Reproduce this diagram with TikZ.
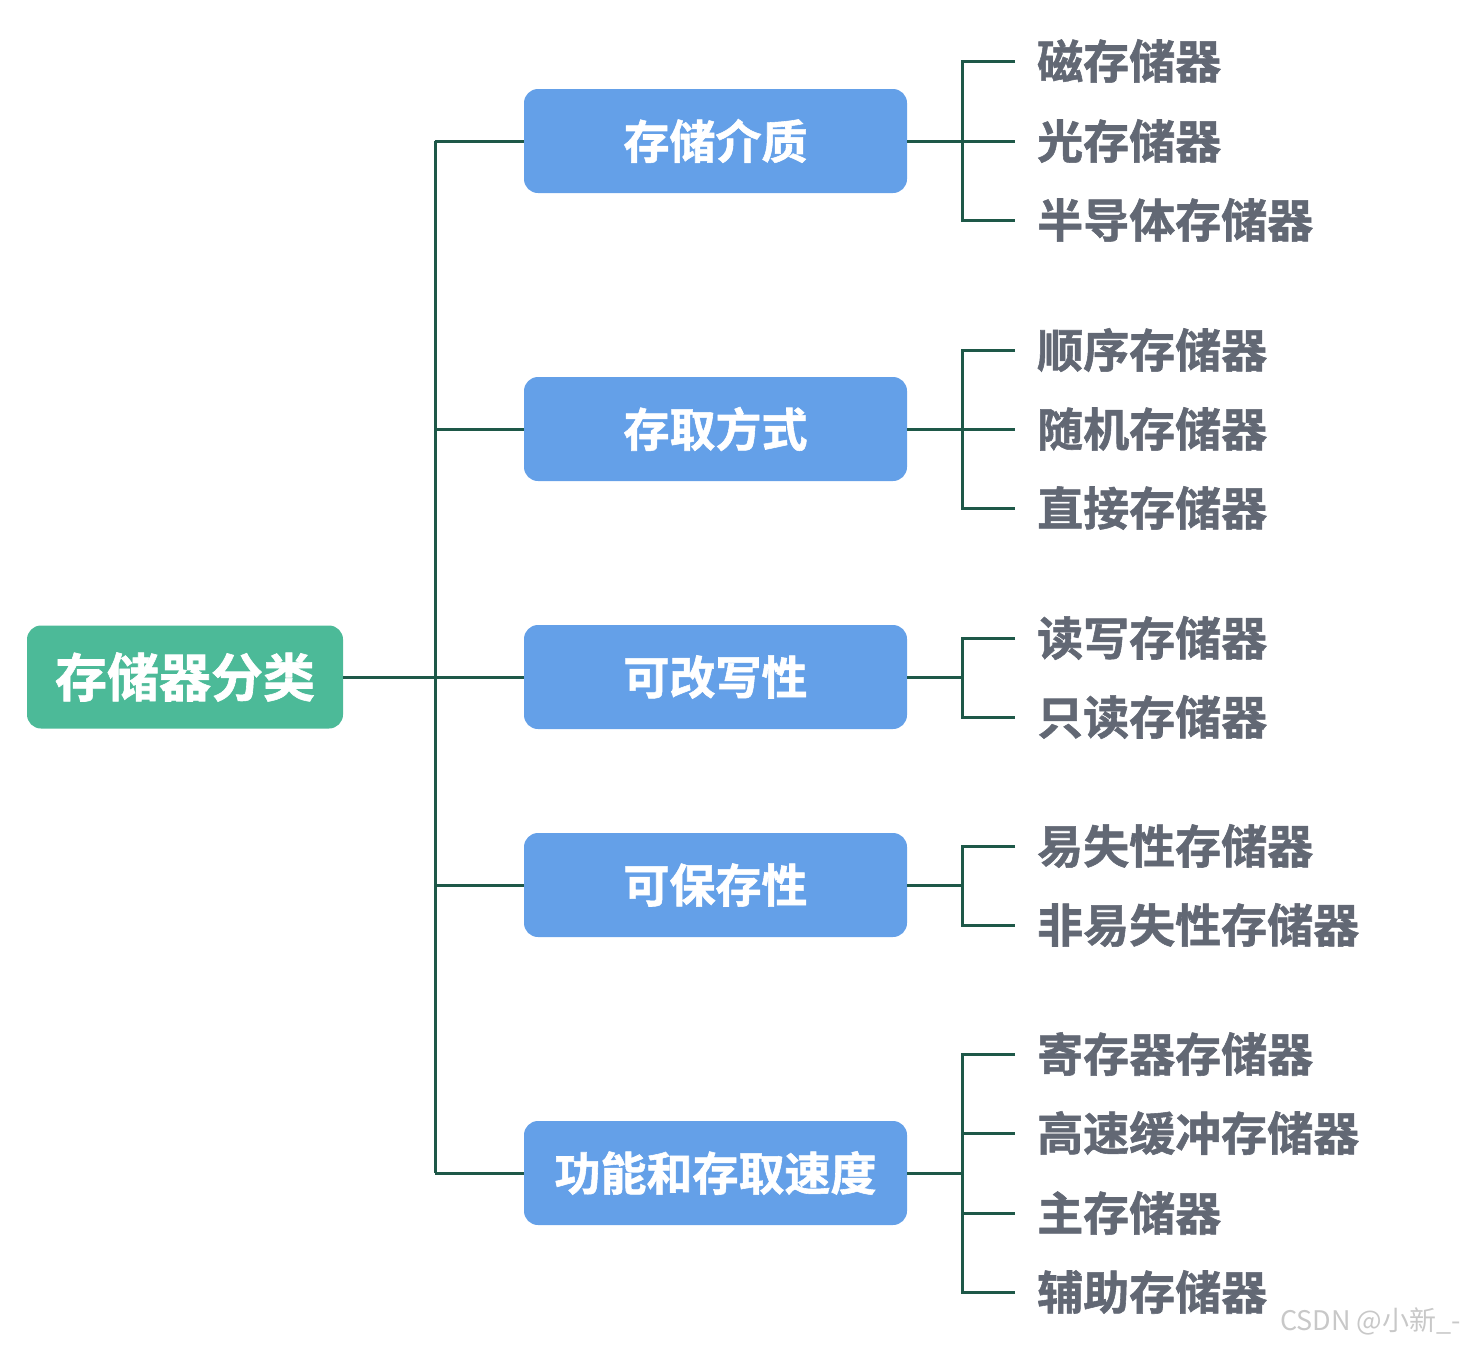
\documentclass[tikz,border=0pt]{standalone}
\usepackage{fontspec}
\setmainfont{Noto Sans CJK SC}
\newfontfamily\cjkb[FakeBold=1.2]{Noto Sans CJK SC Bold}
\newfontfamily\wmfont{Noto Sans CJK SC}
\definecolor{rootc}{RGB}{76,186,152}
\definecolor{boxc}{RGB}{100,160,232}
\definecolor{linec}{RGB}{30,88,72}
\definecolor{leafc}{RGB}{98,104,116}
\definecolor{wmc}{RGB}{200,200,200}
\begin{document}
\begin{tikzpicture}[x=1pt,y=-1pt,
  rootbox/.style={fill=rootc,rounded corners=14pt,minimum width=316pt,minimum height=103pt,inner sep=0pt,text=white,font=\cjkb\fontsize{52}{52}\selectfont},
  catbox/.style={fill=boxc,rounded corners=14pt,minimum width=383pt,minimum height=104pt,inner sep=0pt,text=white,font=\cjkb\fontsize{46}{46}\selectfont},
  leaf/.style={anchor=west,inner sep=0pt,text=leafc,font=\cjkb\fontsize{46}{46}\selectfont},
  conn/.style={draw=linec,line width=3pt}]
\useasboundingbox (0,0) rectangle (1470,1347);
\node[rootbox] (root) at (185,677) {存储器分类};
\node[catbox] (c1) at (715.5,141) {存储介质};
\node[catbox] (c2) at (715.5,429) {存取方式};
\node[catbox] (c3) at (715.5,677) {可改写性};
\node[catbox] (c4) at (715.5,885) {可保存性};
\node[catbox] (c5) at (715.5,1173) {功能和存取速度};
% trunk
\coordinate (t1) at (435,141);
\coordinate (t5) at (435,1173);
\draw[conn] (t1) -- (t5);
\draw[conn] (root.east) -- (c3.west);
\foreach \i in {1,2,4,5} {\draw[conn] (435,0 |- c\i.west) -- (c\i.west);}
% leaves
\def\lx{1037}
\node[leaf] (l11) at (\lx,61) {磁存储器};
\node[leaf] (l12) at (\lx,141) {光存储器};
\node[leaf] (l13) at (\lx,220) {半导体存储器};
\node[leaf] (l21) at (\lx,350) {顺序存储器};
\node[leaf] (l22) at (\lx,429) {随机存储器};
\node[leaf] (l23) at (\lx,508) {直接存储器};
\node[leaf] (l31) at (\lx,638) {读写存储器};
\node[leaf] (l32) at (\lx,717) {只读存储器};
\node[leaf] (l41) at (\lx,846) {易失性存储器};
\node[leaf] (l42) at (\lx,925) {非易失性存储器};
\node[leaf] (l51) at (\lx,1054) {寄存器存储器};
\node[leaf] (l52) at (\lx,1133) {高速缓冲存储器};
\node[leaf] (l53) at (\lx,1213) {主存储器};
\node[leaf] (l54) at (\lx,1292) {辅助存储器};
% brackets
\foreach \c/\top/\bot in {1/l11/l13,2/l21/l23,3/l31/l32,4/l41/l42,5/l51/l54} {
  \coordinate (b\c) at (962,0 |- c\c.east);
  \draw[conn] (c\c.east) -- (b\c);
  \draw[conn] (1015,0 |- \top.west) -- (962,0 |- \top.west) -- (962,0 |- \bot.west) -- (1015,0 |- \bot.west);
}
\foreach \l in {l12,l22,l52,l53} {\draw[conn] (962,0 |- \l.west) -- (1015,0 |- \l.west);}
\node[anchor=west,inner sep=0pt,text=wmc,font=\wmfont\fontsize{27}{27}\selectfont] (wm) at (1280,1321) {CSDN @小新\_-};
\end{tikzpicture}
\end{document}
